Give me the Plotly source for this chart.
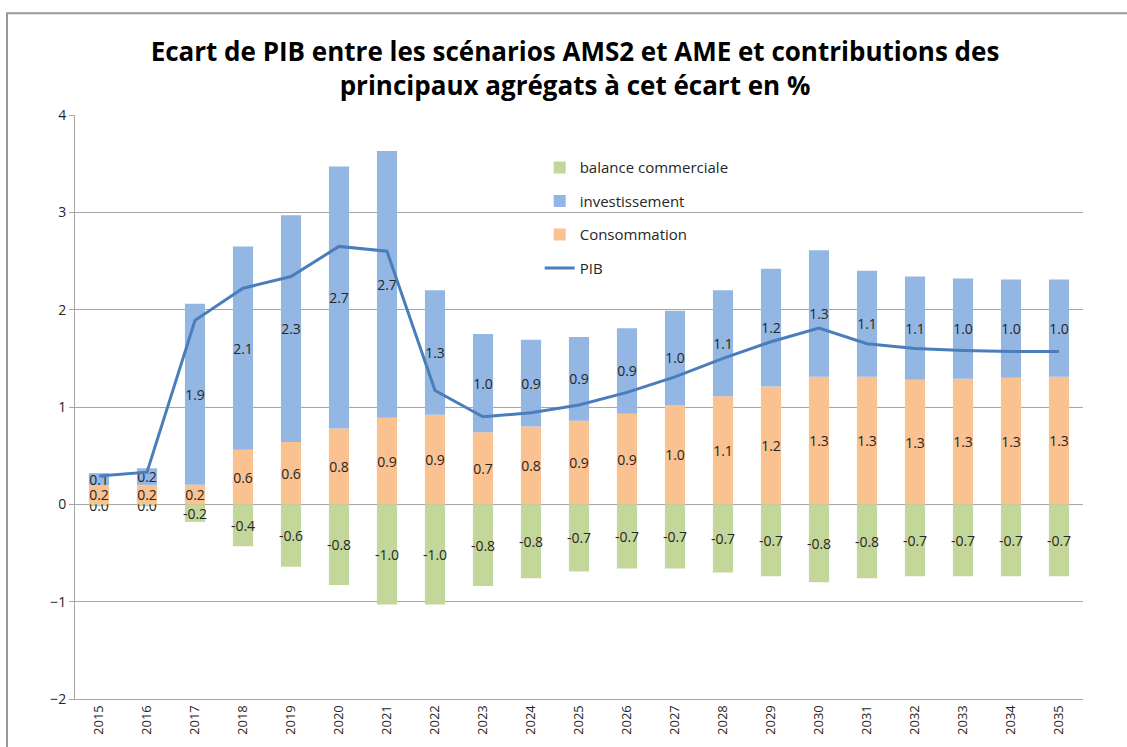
import plotly.graph_objects as go

years = [str(y) for y in range(2015, 2036)]
consommation = [0.20, 0.20, 0.20, 0.56, 0.64, 0.78, 0.89, 0.92, 0.74, 0.80, 0.86,
                0.93, 1.02, 1.11, 1.21, 1.31, 1.31, 1.28, 1.29, 1.30, 1.31]
investissement = [0.12, 0.17, 1.86, 2.09, 2.33, 2.69, 2.74, 1.28, 1.01, 0.89, 0.86,
                  0.88, 0.97, 1.09, 1.21, 1.30, 1.09, 1.06, 1.03, 1.01, 1.00]
balance = [-0.02, -0.02, -0.18, -0.43, -0.64, -0.83, -1.03, -1.03, -0.84, -0.76, -0.69,
           -0.66, -0.66, -0.70, -0.74, -0.80, -0.76, -0.74, -0.74, -0.74, -0.74]
pib = [0.29, 0.33, 1.89, 2.22, 2.34, 2.65, 2.60, 1.17, 0.90, 0.94, 1.02,
       1.15, 1.31, 1.50, 1.67, 1.81, 1.65, 1.60, 1.58, 1.57, 1.57]


def fmt(vals):
    return [f"{round(v, 1) + 0.0:.1f}" for v in vals]


FONT = "Open Sans"
TXT = "#262626"

fig = go.Figure()
fig.add_trace(go.Bar(x=years, y=balance, name="balance commerciale", marker_color="#c4d79b",
                     text=fmt(balance), legendrank=1, legendgroup="a"))
fig.add_trace(go.Bar(x=years, y=consommation, name="Consommation", marker_color="#fac191",
                     text=fmt(consommation), legendrank=3, legendgroup="c"))
fig.add_trace(go.Bar(x=years, y=investissement, name="investissement", marker_color="#93b6e3",
                     text=fmt(investissement), legendrank=2, legendgroup="b"))
fig.update_traces(textposition="inside", insidetextanchor="middle", constraintext="none",
                  textfont=dict(family=FONT, size=14, color=TXT), marker_line_width=0,
                  textangle=0, selector=dict(type="bar"))
fig.add_trace(go.Scatter(x=years, y=pib, name="PIB", mode="lines",
                         line=dict(color="#4a7ebb", width=3), legendrank=4, legendgroup="d"))

fig.update_layout(
    width=1127, height=747,
    margin=dict(l=75, r=44, t=115, b=46),
    paper_bgcolor="white", plot_bgcolor="white",
    barmode="relative", bargap=0.58,
    uniformtext=dict(minsize=14, mode="show"),
    font=dict(family=FONT, color=TXT),
    title=dict(text="Ecart de PIB entre les scénarios AMS2 et AME et contributions des<br>principaux agrégats à cet écart en %",
               x=575/1127, xanchor="center", xref="container",
               y=1-61/747, yanchor="middle", yref="container",
               font=dict(family=FONT, size=26, color="#000000", weight="bold")),
    legend=dict(x=0.461, y=0.938, xanchor="left", yanchor="top",
                font=dict(family=FONT, size=15, color=TXT),
                tracegroupgap=11, bgcolor="rgba(0,0,0,0)"),
    showlegend=True,
    shapes=[dict(type="rect", xref="paper", yref="paper",
                 x0=(7-75)/1008, x1=1.2, y0=-0.2, y1=(701-13)/586,
                 line=dict(color="#999999", width=2), layer="below")],
)
fig.update_yaxes(range=[-2, 4], dtick=1, showgrid=True, gridcolor="#a6a6a6", gridwidth=1,
                 zeroline=True, zerolinecolor="#a6a6a6", zerolinewidth=1,
                 showline=True, linecolor="#a6a6a6", linewidth=1,
                 ticks="outside", ticklen=5, tickcolor="#a6a6a6",
                 tickfont=dict(family=FONT, size=14, color=TXT))
fig.update_xaxes(showline=True, linecolor="#a6a6a6", linewidth=1, showgrid=False,
                 tickangle=-90, tickfont=dict(family=FONT, size=13, color=TXT),
                 ticks="", range=[-0.5, 20.5])

fig.write_html("out.html", config={"displayModeBar": False},
               post_script="document.body.style.margin='0';document.body.style.overflow='hidden';")
